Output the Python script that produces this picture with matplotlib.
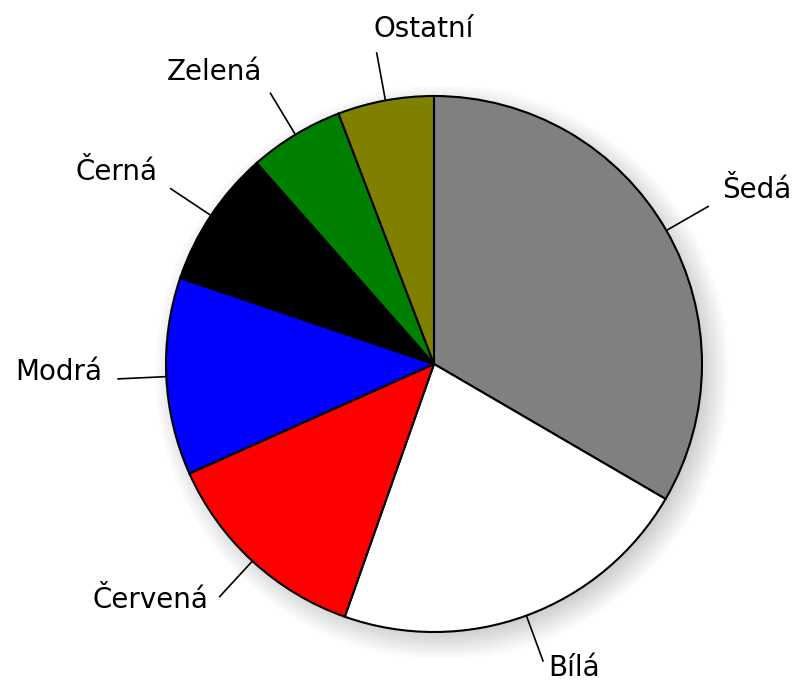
import numpy as np
import matplotlib
matplotlib.use("Agg")
import matplotlib.pyplot as plt
from matplotlib.patches import Circle

labels = ["Šedá", "Bílá", "Červená", "Modrá", "Černá", "Zelená", "Ostatní"]
values = [33.4, 22.0, 12.9, 11.9, 8.3, 5.7, 5.8]
colors = ["#808080", "#ffffff", "#ff0000", "#0000ff", "#000000", "#008000", "#808000"]

plt.rcParams["font.family"] = ["DejaVu Sans"]

fig = plt.figure(figsize=(8, 6.81), dpi=100)
ax = fig.add_axes([0, 0, 1, 1])

# soft shadow towards lower right
for i in range(24):
    ax.add_patch(Circle((0.03, -0.03), 0.97 + i * 0.0045, facecolor="black",
                        edgecolor="none", alpha=0.008, zorder=0))

wedges, _ = ax.pie(values, colors=colors, startangle=90, counterclock=False,
                   wedgeprops=dict(edgecolor="black", linewidth=1.5, zorder=2))

# leader lines and labels
for w, lab in zip(wedges, labels):
    mid = np.deg2rad((w.theta1 + w.theta2) / 2)
    dx, dy = np.cos(mid), np.sin(mid)
    ax.plot([dx, 1.18 * dx], [dy, 1.18 * dy], color="black", lw=1.2, zorder=1)
    ha = "left" if dx > -0.3 else "right"
    ax.text(1.24 * dx, 1.24 * dy, lab, ha=ha, va="baseline", fontsize=20)

ax.set_xlim(-434 / 268, (800 - 434) / 268)
ax.set_ylim(-(681 - 364) / 268, 364 / 268)
ax.set_aspect("equal", adjustable="box")
ax.axis("off")

fig.savefig("out.png", dpi=100, facecolor="white")
